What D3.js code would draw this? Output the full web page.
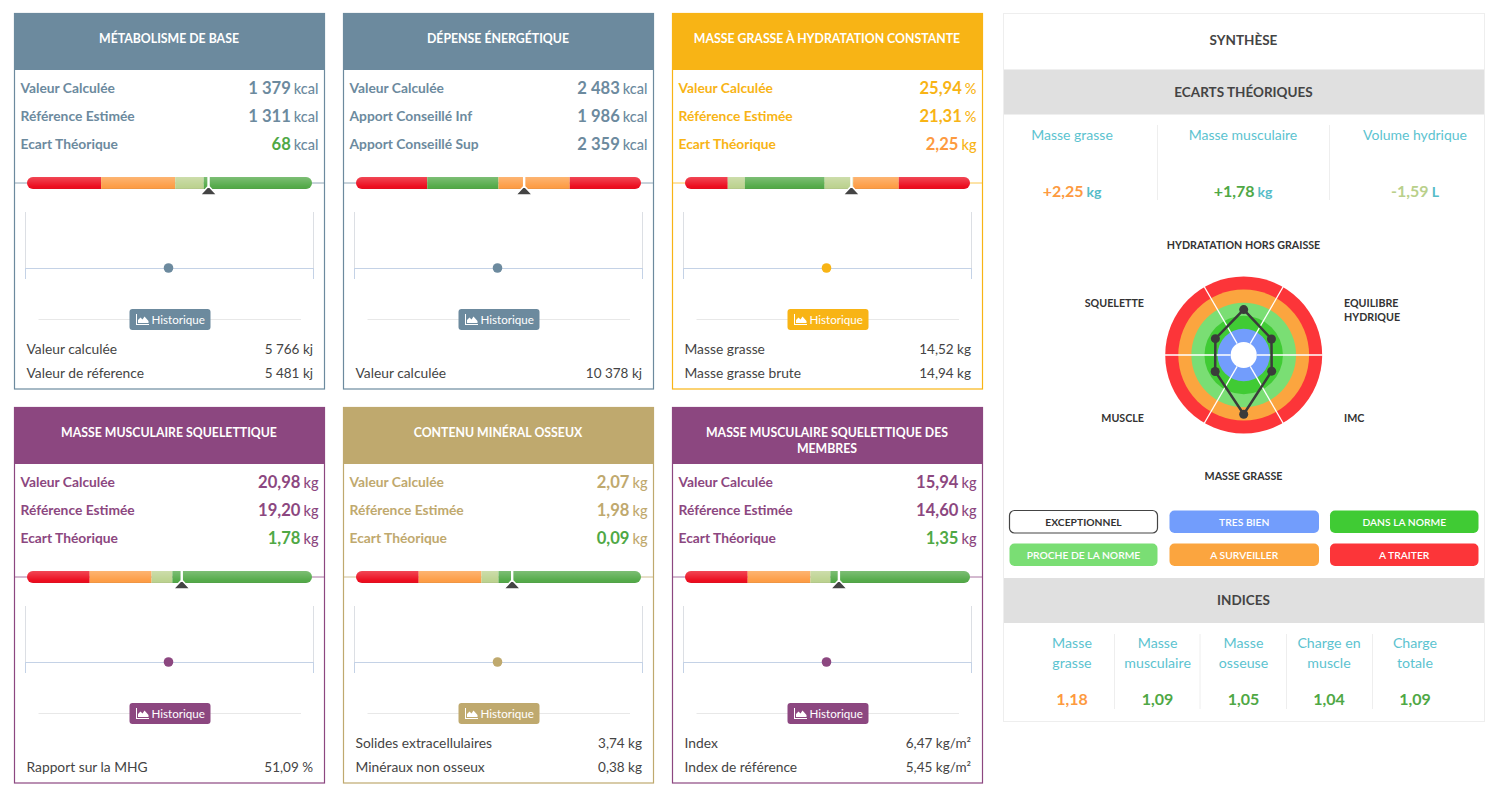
<!DOCTYPE html>
<html>
<head>
<meta charset="utf-8">
<script src="https://cdn.jsdelivr.net/npm/d3@7"></script>
<style>
  html, body { margin: 0; padding: 0; background: #fff; }
  svg { display: block; font-family: Lato, sans-serif; }
</style>
</head>
<body>
<div id="chart"></div>
<script>
// --- data ---
const cardTitles = [
  ["MÉTABOLISME DE BASE"],
  ["DÉPENSE ÉNERGÉTIQUE"],
  ["MASSE GRASSE À HYDRATATION CONSTANTE"],
  ["MASSE MUSCULAIRE SQUELETTIQUE"],
  ["CONTENU MINÉRAL OSSEUX"],
  ["MASSE MUSCULAIRE SQUELETTIQUE DES", "MEMBRES"]
];
const cardColors = ["#6c8a9e", "#6c8a9e", "#f8b415", "#8c4780", "#bfa96e", "#8c4780"];
const rowLabels = [
  ["Valeur Calculée", "Référence Estimée", "Ecart Théorique"],
  ["Valeur Calculée", "Apport Conseillé Inf", "Apport Conseillé Sup"],
  ["Valeur Calculée", "Référence Estimée", "Ecart Théorique"],
  ["Valeur Calculée", "Référence Estimée", "Ecart Théorique"],
  ["Valeur Calculée", "Référence Estimée", "Ecart Théorique"],
  ["Valeur Calculée", "Référence Estimée", "Ecart Théorique"]
];
const rowValues = [
  ["1 379", "1 311", "68"],
  ["2 483", "1 986", "2 359"],
  ["25,94", "21,31", "2,25"],
  ["20,98", "19,20", "1,78"],
  ["2,07", "1,98", "0,09"],
  ["15,94", "14,60", "1,35"]
];
const rowUnits = [
  ["kcal", "kcal", "kcal"],
  ["kcal", "kcal", "kcal"],
  ["%", "%", "kg"],
  ["kg", "kg", "kg"],
  ["kg", "kg", "kg"],
  ["kg", "kg", "kg"]
];
const ecartStatus = ["green", null, "orange", "green", "green", "green"];

// gauge bands: colour name + upper bound on a 0-100 scale
const gaugeBands = [
  [["red", 26], ["orange", 52], ["pale", 62], ["green", 100]],
  [["red", 25], ["green", 50], ["orange", 75], ["red", 100]],
  [["red", 15], ["pale", 21], ["green", 49], ["pale", 59], ["orange", 75], ["red", 100]],
  [["red", 22], ["orange", 43.7], ["pale", 51], ["green", 100]],
  [["red", 22], ["orange", 44], ["pale", 50], ["green", 100]],
  [["red", 22], ["orange", 44], ["pale", 51], ["green", 100]]
];
const gaugeMarkers = [63.7, 59, 58.4, 54.3, 54.8, 54];

const footLabels = [
  ["Valeur calculée", "Valeur de réference"],
  ["", "Valeur calculée"],
  ["Masse grasse", "Masse grasse brute"],
  ["", "Rapport sur la MHG"],
  ["Solides extracellulaires", "Minéraux non osseux"],
  ["Index", "Index de référence"]
];
const footValues = [
  ["5 766 kj", "5 481 kj"],
  ["", "10 378 kj"],
  ["14,52 kg", "14,94 kg"],
  ["", "51,09 %"],
  ["3,74 kg", "0,38 kg"],
  ["6,47 kg/m²", "5,45 kg/m²"]
];

const ecartLabels = ["Masse grasse", "Masse musculaire", "Volume hydrique"];
const ecartValues = ["+2,25", "+1,78", "-1,59"];
const ecartUnits = ["kg", "kg", "L"];
const ecartColors = ["orange", "green", "pale"];

const radarLabels = ["HYDRATATION HORS GRAISSE", "EQUILIBRE|HYDRIQUE", "IMC", "MASSE GRASSE", "MUSCLE", "SQUELETTE"];
const radarLevels = [3.47, 2.45, 2.47, 4.53, 2.52, 2.5];
const ringColors = ["#ffffff", "#729dfc", "#40cb34", "#7ade74", "#fba53f", "#fc3539"];

const legendLabels = ["EXCEPTIONNEL", "TRES BIEN", "DANS LA NORME", "PROCHE DE LA NORME", "A SURVEILLER", "A TRAITER"];

const indiceLabels = [["Masse", "grasse"], ["Masse", "musculaire"], ["Masse", "osseuse"], ["Charge en", "muscle"], ["Charge", "totale"]];
const indiceValues = ["1,18", "1,09", "1,05", "1,04", "1,09"];
const indiceColors = ["orange", "green", "green", "green", "green"];

// --- palette ---
const status = { red: "#ec0a1c", orange: "#fd9c44", pale: "#bcd28f", green: "#52a947" };
const textStatus = { orange: "#fd9a3f", green: "#4fa845", pale: "#b9d08b" };
const teal = "#5cc3d0";
const dark = "#444";

const svg = d3.select("#chart").append("svg").attr("width", 1500).attr("height", 793);

const defs = svg.append("defs");
const shade = defs.append("linearGradient").attr("id", "shade").attr("x1", 0).attr("x2", 0).attr("y1", 0).attr("y2", 1);
shade.append("stop").attr("offset", "0%").attr("stop-color", "#fff").attr("stop-opacity", 0.25);
shade.append("stop").attr("offset", "85%").attr("stop-color", "#fff").attr("stop-opacity", 0);
shade.append("stop").attr("offset", "100%").attr("stop-color", "#000").attr("stop-opacity", 0.1);

const cardX = [14, 343, 672];
const cardY = [13, 407];

cardTitles.forEach((title, i) => drawCard(i, cardX[i % 3], cardY[Math.floor(i / 3)]));
drawSynthese();

function drawCard(i, x0, y0) {
  const color = cardColors[i];
  const g = svg.append("g").attr("transform", `translate(${x0},${y0})`);

  g.append("rect").attr("x", 0.5).attr("y", 0.5).attr("width", 310).attr("height", 375.5)
    .attr("fill", "#fff").attr("stroke", color).attr("stroke-width", 1.2);
  g.append("rect").attr("width", 311).attr("height", 57).attr("fill", color);

  const lines = cardTitles[i];
  const titleY = lines.length > 1 ? 30 : 30;
  lines.forEach((line, k) => {
    g.append("text").attr("x", 155).attr("y", titleY + k * 15.5).attr("text-anchor", "middle")
      .attr("font-size", 12.3).attr("font-weight", 700).attr("fill", "#fff").text(line);
  });

  // value rows
  rowLabels[i].forEach((label, k) => {
    const y = 80 + k * 28;
    g.append("text").attr("x", 6.5).attr("y", y).attr("font-size", 13.8).attr("font-weight", 700)
      .attr("fill", color).text(label);
    const isEcart = k === 2 && ecartStatus[i];
    const val = g.append("text").attr("x", 304.5).attr("y", y + 1).attr("text-anchor", "end");
    val.append("tspan").attr("font-size", 16.6).attr("font-weight", 700)
      .attr("fill", isEcart ? textStatus[ecartStatus[i]] : color).text(rowValues[i][k]);
    val.append("tspan").attr("dx", 3).attr("font-size", 14.5).attr("font-weight", 500)
      .attr("fill", color).text(rowUnits[i][k]);
  });

  drawGauge(g, i, color);
  drawHistory(g, i, color);

  // bottom rows
  footLabels[i].forEach((label, k) => {
    const y = 341 + k * 24;
    g.append("text").attr("x", 12.5).attr("y", y).attr("font-size", 13.8).attr("fill", dark).text(label);
    g.append("text").attr("x", 299).attr("y", y).attr("text-anchor", "end")
      .attr("font-size", 13.5).attr("fill", dark).text(footValues[i][k]);
  });
}

function drawGauge(g, i, color) {
  const x = d3.scaleLinear().domain([0, 100]).range([13, 298]);
  const barY = 164, barH = 12;
  g.append("line").attr("x1", 0).attr("x2", 311).attr("y1", barY + 6).attr("y2", barY + 6)
    .attr("stroke", color).attr("stroke-opacity", 0.75).attr("stroke-width", 1);

  const clipId = "bar-clip-" + i;
  defs.append("clipPath").attr("id", clipId).append("rect")
    .attr("x", x(0)).attr("y", barY).attr("width", x(100) - x(0)).attr("height", barH).attr("rx", 6);

  const bands = gaugeBands[i].map((b, k, all) => ({ color: b[0], from: k ? all[k - 1][1] : 0, to: b[1] }));
  const bar = g.append("g").attr("clip-path", `url(#${clipId})`);
  bar.selectAll("rect.band").data(bands).enter().append("rect").attr("class", "band")
    .attr("x", d => x(d.from)).attr("width", d => x(d.to) - x(d.from))
    .attr("y", barY).attr("height", barH).attr("fill", d => status[d.color]);
  bar.append("rect").attr("x", x(0)).attr("width", x(100) - x(0)).attr("y", barY).attr("height", barH)
    .attr("fill", "url(#shade)");

  const mx = x(gaugeMarkers[i]);
  g.append("line").attr("x1", mx).attr("x2", mx).attr("y1", barY).attr("y2", barY + 9)
    .attr("stroke", "#fff").attr("stroke-width", 2.4);
  g.append("path").attr("transform", `translate(${mx},${barY + 9})`)
    .attr("d", "M0,0 L8.5,9 L-8.5,9 Z").attr("fill", "#444").attr("stroke", "#fff")
    .attr("stroke-width", 1.6).attr("stroke-linejoin", "round");
}

function drawHistory(g, i, color) {
  // a single measure, centred on the time axis
  const x = d3.scaleLinear().domain([-1, 1]).range([11, 299]);
  const baseY = 255;

  const grid = g.append("g").attr("transform", `translate(0,${baseY})`)
    .call(d3.axisBottom(x).tickValues([-1, 1]).tickSize(-56).tickFormat(""));
  grid.select(".domain").remove();
  grid.selectAll("line").attr("stroke", "#dcdfe4");

  const axis = g.append("g").attr("transform", `translate(0,${baseY})`)
    .call(d3.axisBottom(x).tickValues([-1, 1]).tickSize(11).tickSizeOuter(0).tickFormat(""));
  axis.selectAll("line, path").attr("stroke", "#c4d2e6");

  g.append("circle").attr("cx", x(0) - 0.5).attr("cy", baseY).attr("r", 4.8).attr("fill", color);

  // Historique button
  const bx = 115.5, by = 296, bw = 81, bh = 21;
  g.append("line").attr("x1", 24.5).attr("x2", 287).attr("y1", by + 10.5).attr("y2", by + 10.5)
    .attr("stroke", "#e8e8e8");
  g.append("rect").attr("x", bx).attr("y", by).attr("width", bw).attr("height", bh).attr("rx", 3).attr("fill", color);
  g.append("path").attr("transform", `translate(${bx + 6.5},${by + 5})`)
    .attr("d", "M0,0 V11 H13 V10 H1 V0 Z M2,9 L2,6 L4.5,3.5 L6.5,5.5 L8.5,2.5 L12.5,7 L12.5,9 Z").attr("fill", "#fff");
  g.append("text").attr("x", bx + 22).attr("y", by + 15).attr("font-size", 11.6).attr("fill", "#fff").text("Historique");
}

function drawSynthese() {
  const g = svg.append("g");
  const cx = [1072, 1157.6, 1243.5, 1329, 1415];

  g.append("rect").attr("x", 1003.5).attr("y", 13.5).attr("width", 481).attr("height", 708)
    .attr("fill", "#fff").attr("stroke", "#eee");
  g.append("text").attr("x", 1243.5).attr("y", 44.5).attr("text-anchor", "middle").attr("font-size", 13.5)
    .attr("font-weight", 700).attr("fill", dark).text("SYNTHÈSE");

  band(g, 69.5, "ECARTS THÉORIQUES");
  band(g, 578, "INDICES");

  // ecarts
  const ecartX = [1072, 1243, 1415];
  ecartLabels.forEach((label, k) => {
    g.append("text").attr("x", ecartX[k]).attr("y", 140).attr("text-anchor", "middle")
      .attr("font-size", 14).attr("fill", teal).text(label);
    const val = g.append("text").attr("x", ecartX[k]).attr("y", 196.5).attr("text-anchor", "middle");
    val.append("tspan").attr("font-size", 16).attr("font-weight", 700).attr("fill", textStatus[ecartColors[k]]).text(ecartValues[k]);
    val.append("tspan").attr("dx", 3).attr("font-size", 14).attr("font-weight", 700).attr("fill", "#55bcc8").text(ecartUnits[k]);
  });
  [1157.5, 1329.5].forEach(x => g.append("line").attr("x1", x).attr("x2", x).attr("y1", 125).attr("y2", 200).attr("stroke", "#eee"));

  drawRadar(g);

  // legend
  const legendX = [1009.5, 1169.5, 1330];
  const legendW = [148, 149.5, 148.5];
  legendLabels.forEach((label, k) => {
    const col = k % 3, y = k < 3 ? 510.5 : 543.5;
    g.append("rect").attr("x", legendX[col]).attr("y", y).attr("width", legendW[col]).attr("height", 22.5).attr("rx", 5)
      .attr("fill", ringColors[k]).attr("stroke", k === 0 ? "#444" : "none").attr("stroke-width", 1.2);
    g.append("text").attr("x", legendX[col] + legendW[col] / 2).attr("y", y + 15).attr("text-anchor", "middle")
      .attr("font-size", 10.3).attr("font-weight", k === 0 ? 700 : 600).attr("fill", k === 0 ? "#333" : "#fff").text(label);
  });

  // indices
  indiceLabels.forEach((lines, k) => {
    lines.forEach((line, j) => {
      g.append("text").attr("x", cx[k]).attr("y", 648 + j * 19.5).attr("text-anchor", "middle")
        .attr("font-size", 14.2).attr("fill", teal).text(line);
    });
    g.append("text").attr("x", cx[k]).attr("y", 705).attr("text-anchor", "middle")
      .attr("font-size", 16).attr("font-weight", 700).attr("fill", textStatus[indiceColors[k]]).text(indiceValues[k]);
  });
  [1114.5, 1200, 1286.5, 1372.5].forEach(x => g.append("line").attr("x1", x).attr("x2", x).attr("y1", 634).attr("y2", 709).attr("stroke", "#eee"));
}

function band(g, y, label) {
  g.append("rect").attr("x", 1004).attr("y", y).attr("width", 480).attr("height", 45).attr("fill", "#e0e0e0");
  g.append("text").attr("x", 1243.5).attr("y", y + 27).attr("text-anchor", "middle").attr("font-size", 13.5)
    .attr("font-weight", 700).attr("fill", dark).text(label);
}

function drawRadar(parent) {
  const cxR = 1243.7, cyR = 355;
  const r = d3.scaleLinear().domain([0, 6]).range([0, 78.5]);
  const angle = d3.scaleLinear().domain([0, radarLabels.length]).range([0, 2 * Math.PI]);
  const g = parent.append("g").attr("transform", `translate(${cxR},${cyR})`);

  // rings, outermost first
  d3.range(6, 0, -1).forEach(level => {
    g.append("circle").attr("r", r(level)).attr("fill", ringColors[level - 1]);
  });

  // spokes between the axes, from the white centre out
  radarLabels.forEach((_, k) => {
    const a = angle(k + 0.5);
    g.append("line")
      .attr("x1", r(1) * Math.sin(a)).attr("y1", -r(1) * Math.cos(a))
      .attr("x2", r(6.05) * Math.sin(a)).attr("y2", -r(6.05) * Math.cos(a))
      .attr("stroke", "#fff").attr("stroke-width", 1.3);
  });

  const line = d3.lineRadial().angle((d, k) => angle(k)).radius(d => r(d)).curve(d3.curveLinearClosed);
  g.append("path").attr("d", line(radarLevels)).attr("fill", "none").attr("stroke", "#3b3b3b").attr("stroke-width", 2.5);
  g.selectAll("circle.pt").data(radarLevels).enter().append("circle").attr("class", "pt")
    .attr("cx", (d, k) => r(d) * Math.sin(angle(k))).attr("cy", (d, k) => -r(d) * Math.cos(angle(k)))
    .attr("r", 4.5).attr("fill", "#3b3b3b");

  // labels around the radar
  const labelPos = [[1243.5, 248.5, "middle"], [1344, 306.5, "start"], [1344, 421.5, "start"], [1243.5, 479.5, "middle"], [1144, 421.5, "end"], [1144, 306.5, "end"]];
  radarLabels.forEach((label, k) => {
    const p = labelPos[k];
    label.split("|").forEach((part, j) => {
      parent.append("text").attr("x", p[0]).attr("y", p[1] + j * 14).attr("text-anchor", p[2])
        .attr("font-size", 10.7).attr("font-weight", 700).attr("fill", "#333").text(part);
    });
  });
}
</script>
</body>
</html>
